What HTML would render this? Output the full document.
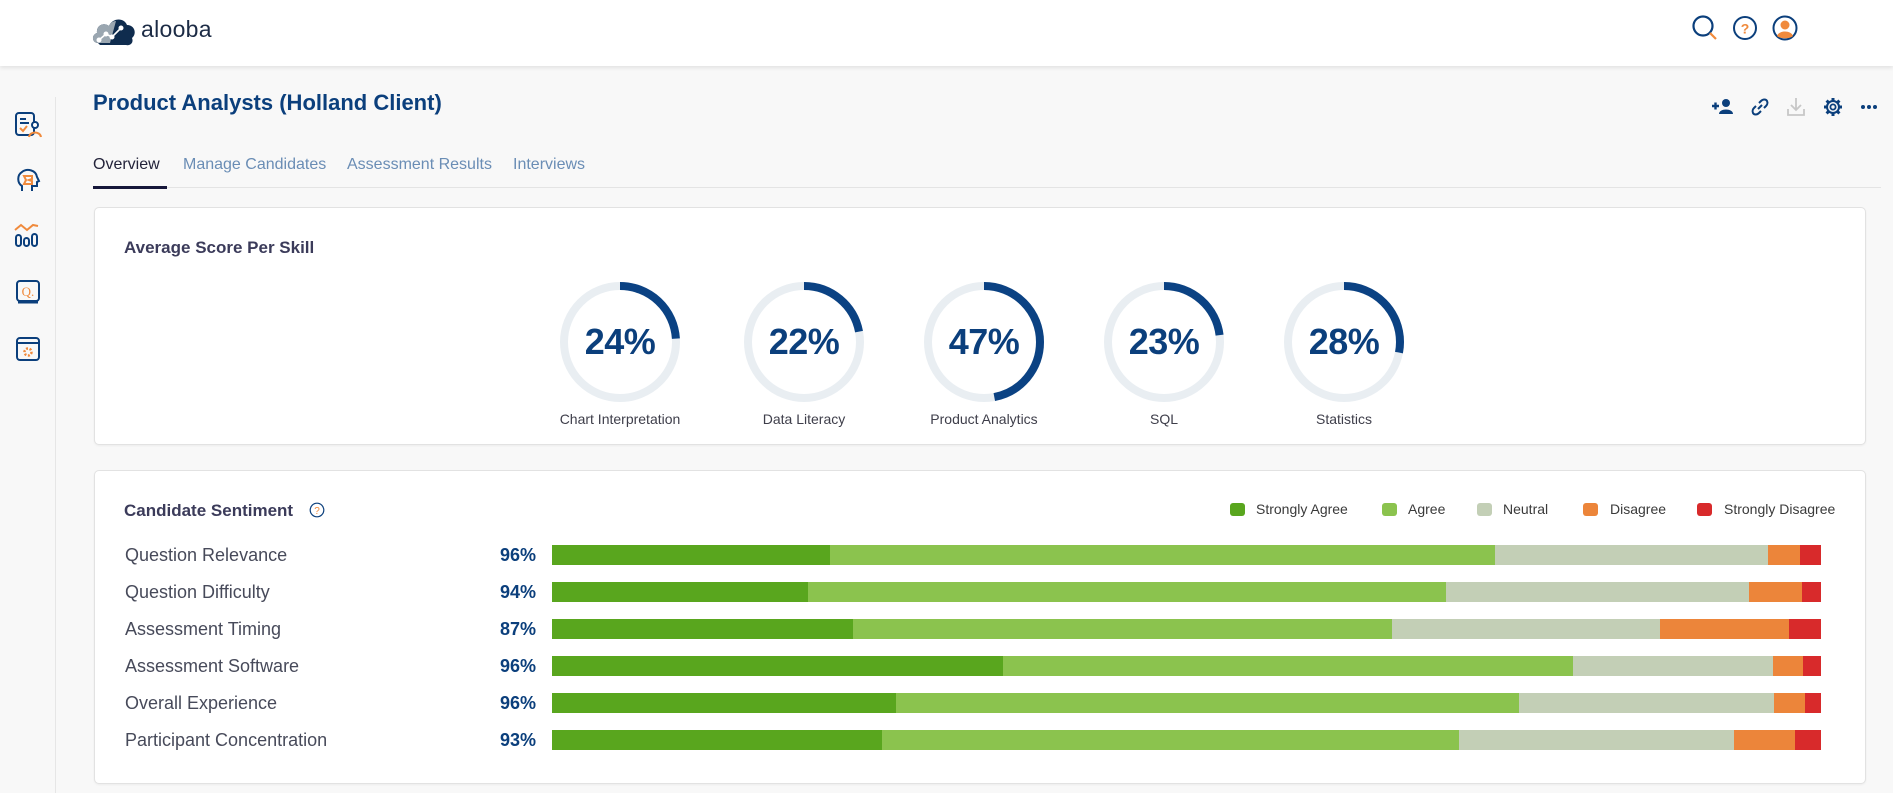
<!DOCTYPE html>
<html><head><meta charset="utf-8">
<style>
*{margin:0;padding:0;box-sizing:border-box}
html,body{width:1893px;height:793px;overflow:hidden;background:#f8f8f8;font-family:"Liberation Sans",sans-serif;position:relative}
.a{position:absolute}
.hdr{left:0;top:0;width:1893px;height:66px;background:#fff;box-shadow:0 2px 4px rgba(0,0,0,0.09)}
.card{background:#fff;border:1px solid #e2e2e2;border-radius:5px;box-shadow:0 1px 2px rgba(0,0,0,0.05)}
.lbl{left:125px;font-size:18px;color:#474a5a;line-height:20px;white-space:nowrap}
.pct{width:80px;left:456px;text-align:right;font-size:18px;font-weight:bold;color:#0b3f7c;line-height:20px}
.seg{height:20px}
.sa{background:#59a61e}.ag{background:#8bc34e}.ne{background:#c3cfb6}.di{background:#ec853a}.sd{background:#d82a2b}
.lg{font-size:14px;color:#3a3a3a;line-height:18px;top:500px;white-space:nowrap}
.sq{width:15px;height:13px;border-radius:3px;top:503px}
.dl{font-size:14px;color:#3e3e4a;width:200px;text-align:center;top:411px;line-height:16px}
.dp{font-size:36px;font-weight:bold;color:#0b3f7c;width:160px;text-align:center;top:322px;line-height:40px;letter-spacing:-0.5px}
.tab{top:155px;font-size:16px;line-height:20px;color:#6a8db5;white-space:nowrap}
</style></head><body>

<div class="a hdr"></div>
<!-- logo -->
<svg class="a" style="left:90px;top:13px" width="48" height="36" viewBox="0 0 48 36">
<path d="M8 30 C2 30 1 22 7 20 C6 12 14 9 19 13 C22 5 34 4 37 12 C45 12 47 21 42 25 C44 30 40 33 36 32 L10 32 Z" fill="#0f2c4e"/>
<path d="M8 30 C2 30 1 22 7 20 C6 12 14 9 19 13 C20 10 23 8 26 8 L20 30 Z" fill="#9aa6b0"/>
<polyline points="9,27 16,21 22,24 31,15" fill="none" stroke="#fff" stroke-width="1.6"/>
<circle cx="9" cy="27" r="2.5" fill="#fff"/><circle cx="16" cy="21" r="2.5" fill="#fff"/><circle cx="22" cy="24" r="2.5" fill="#fff"/><circle cx="31" cy="15" r="2.5" fill="#fff"/>
</svg>
<div class="a" style="left:141px;top:14px;font-size:23px;color:#1c2b45;line-height:30px;letter-spacing:0.3px">alooba</div>

<!-- top right icons -->
<svg class="a" style="left:1690px;top:13px" width="30" height="30" viewBox="0 0 30 30">
<circle cx="13" cy="13" r="9.5" fill="none" stroke="#0b3f7c" stroke-width="2.2"/>
<line x1="20" y1="20" x2="26" y2="26" stroke="#f08a3c" stroke-width="2.2"/>
</svg>
<svg class="a" style="left:1732px;top:15px" width="26" height="26" viewBox="0 0 26 26">
<circle cx="13" cy="13" r="11" fill="none" stroke="#0b3f7c" stroke-width="2"/>
<text x="13" y="18.5" text-anchor="middle" font-family="Liberation Sans" font-weight="bold" font-size="14" fill="#f08a3c">?</text>
</svg>
<svg class="a" style="left:1772px;top:15px" width="26" height="26" viewBox="0 0 26 26">
<circle cx="13" cy="13" r="11.5" fill="#fff" stroke="#0b3f7c" stroke-width="2"/>
<circle cx="13" cy="10" r="4.5" fill="#f08a3c"/>
<path d="M5 21 C7 15 19 15 21 21 C18 24 8 24 5 21Z" fill="#f08a3c"/>
</svg>

<!-- sidebar -->
<div class="a" style="left:55px;top:97px;width:1px;height:696px;background:#e6e6e6"></div>
<svg class="a" style="left:14px;top:111px" width="28" height="28" viewBox="0 0 28 28">
<rect x="2" y="2" width="18" height="22" rx="3" fill="none" stroke="#0b3f7c" stroke-width="2"/>
<line x1="6" y1="8" x2="12" y2="8" stroke="#0b3f7c" stroke-width="2"/><line x1="6" y1="12" x2="15" y2="12" stroke="#0b3f7c" stroke-width="2"/>
<polyline points="6,17 9,20 13,15" fill="none" stroke="#f08a3c" stroke-width="2"/>
<circle cx="21" cy="14" r="3" fill="#fff" stroke="#0b3f7c" stroke-width="2"/>
<path d="M15 26 C16 20 26 20 27 26" fill="none" stroke="#f08a3c" stroke-width="2"/>
</svg>
<svg class="a" style="left:15px;top:167px" width="26" height="26" viewBox="0 0 26 26">
<path d="M7 24 L7 19 C2 16 2 8 7 5 C12 1 21 3 22 10 L24 14 L22 15 L22 19 L17 19 L17 24" fill="none" stroke="#0b3f7c" stroke-width="2"/>
<path d="M9 9 L17 9 L17 12 L14 13 L17 14 L17 17 L9 17 L11 13 Z" fill="none" stroke="#f08a3c" stroke-width="2"/>
</svg>
<svg class="a" style="left:13px;top:222px" width="28" height="26" viewBox="0 0 28 26">
<polyline points="2,8 8,3 14,8 20,3 25,4" fill="none" stroke="#f08a3c" stroke-width="2"/>
<rect x="3" y="13" width="5" height="11" rx="2.5" fill="none" stroke="#0b3f7c" stroke-width="2"/>
<rect x="11" y="16" width="5" height="8" rx="2.5" fill="none" stroke="#0b3f7c" stroke-width="2"/>
<rect x="19" y="12" width="5" height="12" rx="2.5" fill="none" stroke="#0b3f7c" stroke-width="2"/>
</svg>
<svg class="a" style="left:15px;top:279px" width="26" height="26" viewBox="0 0 26 26">
<rect x="2" y="2" width="22" height="20" rx="3" fill="none" stroke="#0b3f7c" stroke-width="2"/>
<line x1="3" y1="23.5" x2="23" y2="23.5" stroke="#0b3f7c" stroke-width="2"/>
<text x="13" y="17" text-anchor="middle" font-family="Liberation Serif" font-size="13" fill="#f08a3c">Q.</text>
</svg>
<svg class="a" style="left:15px;top:336px" width="26" height="26" viewBox="0 0 26 26">
<rect x="2" y="2" width="22" height="22" rx="3" fill="none" stroke="#0b3f7c" stroke-width="2"/>
<line x1="2" y1="7" x2="24" y2="7" stroke="#0b3f7c" stroke-width="2"/>
<circle cx="13" cy="16" r="3.5" fill="none" stroke="#f08a3c" stroke-width="2.5" stroke-dasharray="2 1.6"/>
</svg>

<!-- title -->
<div class="a" style="left:93px;top:90px;font-size:22px;font-weight:bold;color:#0b3f7c;line-height:26px;white-space:nowrap">Product Analysts (Holland Client)</div>

<!-- action icons -->
<svg class="a" style="left:1710px;top:97px" width="26" height="20" viewBox="0 0 26 20">
<path d="M2 9 H9 M5.5 5.5 V12.5" stroke="#0b3f7c" stroke-width="2.4"/>
<circle cx="16" cy="6" r="4" fill="#0b3f7c"/>
<path d="M9 17 C9 11 23 11 23 17 Z" fill="#0b3f7c"/>
</svg>
<svg class="a" style="left:1750px;top:97px" width="20" height="20" viewBox="0 0 20 20">
<path d="M8 12 L12 8" stroke="#0b3f7c" stroke-width="2"/>
<path d="M9 6 L11 4 C13 2 16 2 17 4 C18 6 17 8 16 9 L14 11" fill="none" stroke="#0b3f7c" stroke-width="2"/>
<path d="M11 14 L9 16 C7 18 4 18 3 16 C2 14 3 12 4 11 L6 9" fill="none" stroke="#0b3f7c" stroke-width="2"/>
</svg>
<svg class="a" style="left:1786px;top:96px" width="20" height="22" viewBox="0 0 20 22">
<path d="M10 2 V14 M5 9 L10 14 L15 9" fill="none" stroke="#c7c7c7" stroke-width="1.8"/>
<path d="M2 13 V19 H18 V13" fill="none" stroke="#c7c7c7" stroke-width="1.8"/>
</svg>
<svg class="a" style="left:1823px;top:97px" width="20" height="20" viewBox="0 0 20 20">
<circle cx="10" cy="10" r="6" fill="none" stroke="#0b3f7c" stroke-width="2"/>
<circle cx="10" cy="10" r="2.6" fill="none" stroke="#0b3f7c" stroke-width="1.8"/>
<g stroke="#0b3f7c" stroke-width="3">
<line x1="10" y1="1" x2="10" y2="4"/><line x1="10" y1="16" x2="10" y2="19"/>
<line x1="1" y1="10" x2="4" y2="10"/><line x1="16" y1="10" x2="19" y2="10"/>
<line x1="3.6" y1="3.6" x2="5.8" y2="5.8"/><line x1="14.2" y1="14.2" x2="16.4" y2="16.4"/>
<line x1="3.6" y1="16.4" x2="5.8" y2="14.2"/><line x1="14.2" y1="5.8" x2="16.4" y2="3.6"/>
</g>
</svg>
<svg class="a" style="left:1860px;top:102px" width="18" height="10" viewBox="0 0 18 10">
<circle cx="3" cy="5" r="2" fill="#0b3f7c"/><circle cx="9" cy="5" r="2" fill="#0b3f7c"/><circle cx="15" cy="5" r="2" fill="#0b3f7c"/>
</svg>

<!-- tabs -->
<div class="a tab" style="left:93px;color:#23233a">Overview</div>
<div class="a tab" style="left:183px">Manage Candidates</div>
<div class="a tab" style="left:347px">Assessment Results</div>
<div class="a tab" style="left:513px">Interviews</div>
<div class="a" style="left:93px;top:187px;width:1788px;height:1px;background:#e4e4e4"></div>
<div class="a" style="left:93px;top:186px;width:74px;height:3px;background:#16173a"></div>

<!-- card 1 -->
<div class="a card" style="left:94px;top:207px;width:1772px;height:238px"></div>
<div class="a" style="left:124px;top:238px;font-size:17px;font-weight:bold;color:#3b3b5a;line-height:20px;white-space:nowrap">Average Score Per Skill</div>

<svg class="a" style="left:0;top:0" width="1893" height="460">
<g fill="none" stroke-width="8">
<circle cx="620" cy="342" r="56" stroke="#e9eef2"/>
<circle cx="620" cy="342" r="56" stroke="#0b4283" stroke-dasharray="84.4 400" transform="rotate(-90 620 342)"/>
<circle cx="804" cy="342" r="56" stroke="#e9eef2"/>
<circle cx="804" cy="342" r="56" stroke="#0b4283" stroke-dasharray="77.4 400" transform="rotate(-90 804 342)"/>
<circle cx="984" cy="342" r="56" stroke="#e9eef2"/>
<circle cx="984" cy="342" r="56" stroke="#0b4283" stroke-dasharray="165.4 400" transform="rotate(-90 984 342)"/>
<circle cx="1164" cy="342" r="56" stroke="#e9eef2"/>
<circle cx="1164" cy="342" r="56" stroke="#0b4283" stroke-dasharray="80.9 400" transform="rotate(-90 1164 342)"/>
<circle cx="1344" cy="342" r="56" stroke="#e9eef2"/>
<circle cx="1344" cy="342" r="56" stroke="#0b4283" stroke-dasharray="98.5 400" transform="rotate(-90 1344 342)"/>
</g>
</svg>
<div class="a dp" style="left:540px">24%</div>
<div class="a dp" style="left:724px">22%</div>
<div class="a dp" style="left:904px">47%</div>
<div class="a dp" style="left:1084px">23%</div>
<div class="a dp" style="left:1264px">28%</div>
<div class="a dl" style="left:520px">Chart Interpretation</div>
<div class="a dl" style="left:704px">Data Literacy</div>
<div class="a dl" style="left:884px">Product Analytics</div>
<div class="a dl" style="left:1064px">SQL</div>
<div class="a dl" style="left:1244px">Statistics</div>

<!-- card 2 -->
<div class="a card" style="left:94px;top:470px;width:1772px;height:314px"></div>
<div class="a" style="left:124px;top:501px;font-size:17px;font-weight:bold;color:#3b3b5a;line-height:20px;white-space:nowrap">Candidate Sentiment</div>
<svg class="a" style="left:309px;top:502px" width="16" height="16" viewBox="0 0 16 16">
<circle cx="8" cy="8" r="6.8" fill="none" stroke="#0b3f7c" stroke-width="1.2"/>
<text x="8" y="12" text-anchor="middle" font-family="Liberation Sans" font-size="10" fill="#f08a3c">?</text>
</svg>

<!-- legend -->
<div class="a sq sa" style="left:1230px"></div><div class="a lg" style="left:1256px">Strongly Agree</div>
<div class="a sq ag" style="left:1382px"></div><div class="a lg" style="left:1408px">Agree</div>
<div class="a sq ne" style="left:1477px"></div><div class="a lg" style="left:1503px">Neutral</div>
<div class="a sq di" style="left:1583px"></div><div class="a lg" style="left:1610px">Disagree</div>
<div class="a sq sd" style="left:1697px"></div><div class="a lg" style="left:1724px">Strongly Disagree</div>

<!-- rows -->
<div class="a lbl" style="top:545px">Question Relevance</div>
<div class="a pct" style="top:545px">96%</div>
<div class="a lbl" style="top:582px">Question Difficulty</div>
<div class="a pct" style="top:582px">94%</div>
<div class="a lbl" style="top:619px">Assessment Timing</div>
<div class="a pct" style="top:619px">87%</div>
<div class="a lbl" style="top:656px">Assessment Software</div>
<div class="a pct" style="top:656px">96%</div>
<div class="a lbl" style="top:693px">Overall Experience</div>
<div class="a pct" style="top:693px">96%</div>
<div class="a lbl" style="top:730px">Participant Concentration</div>
<div class="a pct" style="top:730px">93%</div>

<!-- bars -->
<div class="a seg sa" style="top:545px;left:552px;width:278px"></div>
<div class="a seg ag" style="top:545px;left:830px;width:665px"></div>
<div class="a seg ne" style="top:545px;left:1495px;width:273px"></div>
<div class="a seg di" style="top:545px;left:1768px;width:32px"></div>
<div class="a seg sd" style="top:545px;left:1800px;width:21px"></div>

<div class="a seg sa" style="top:582px;left:552px;width:256px"></div>
<div class="a seg ag" style="top:582px;left:808px;width:638px"></div>
<div class="a seg ne" style="top:582px;left:1446px;width:303px"></div>
<div class="a seg di" style="top:582px;left:1749px;width:53px"></div>
<div class="a seg sd" style="top:582px;left:1802px;width:19px"></div>

<div class="a seg sa" style="top:619px;left:552px;width:301px"></div>
<div class="a seg ag" style="top:619px;left:853px;width:539px"></div>
<div class="a seg ne" style="top:619px;left:1392px;width:268px"></div>
<div class="a seg di" style="top:619px;left:1660px;width:129px"></div>
<div class="a seg sd" style="top:619px;left:1789px;width:32px"></div>

<div class="a seg sa" style="top:656px;left:552px;width:451px"></div>
<div class="a seg ag" style="top:656px;left:1003px;width:570px"></div>
<div class="a seg ne" style="top:656px;left:1573px;width:200px"></div>
<div class="a seg di" style="top:656px;left:1773px;width:30px"></div>
<div class="a seg sd" style="top:656px;left:1803px;width:18px"></div>

<div class="a seg sa" style="top:693px;left:552px;width:344px"></div>
<div class="a seg ag" style="top:693px;left:896px;width:623px"></div>
<div class="a seg ne" style="top:693px;left:1519px;width:255px"></div>
<div class="a seg di" style="top:693px;left:1774px;width:31px"></div>
<div class="a seg sd" style="top:693px;left:1805px;width:16px"></div>

<div class="a seg sa" style="top:730px;left:552px;width:330px"></div>
<div class="a seg ag" style="top:730px;left:882px;width:577px"></div>
<div class="a seg ne" style="top:730px;left:1459px;width:275px"></div>
<div class="a seg di" style="top:730px;left:1734px;width:61px"></div>
<div class="a seg sd" style="top:730px;left:1795px;width:26px"></div>

</body></html>
